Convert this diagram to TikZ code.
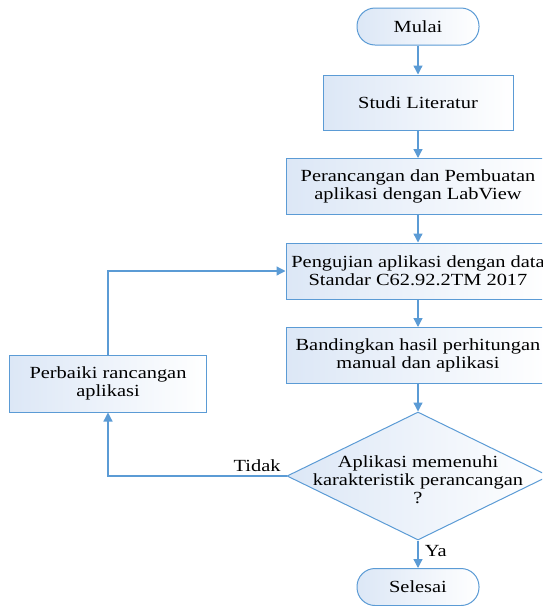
\documentclass[tikz,border=0pt]{standalone}
\usepackage{fontspec}
\setmainfont{Liberation Serif}[FakeStretch=1.2]
\usepackage{tikz}
\usetikzlibrary{positioning,shapes.geometric,arrows.meta}

\definecolor{flowblue}{HTML}{5B9BD5}
\definecolor{fillblue}{HTML}{DCE7F6}

\begin{document}
\begin{tikzpicture}[
        x=1pt, y=-1pt,
        node distance=27.5pt,
        font=\fontsize{17}{18}\selectfont,
        % every node/.style={draw},
        base/.style={draw=flowblue, line width=1pt, left color=fillblue, right color=white, align=center, inner sep=2pt},
        terminal/.style={base, rounded corners=18pt, minimum width=122pt, minimum height=37pt},
        process/.style={base, minimum width=264pt, minimum height=56pt},
        decision/.style={base, diamond, inner sep=0pt, minimum width=262pt, minimum height=128pt},
        % connectors
        line/.style={draw=flowblue, line width=1.3pt, -{Triangle[width=9pt,length=9pt]}},
    ]
    \useasboundingbox (0,0) rectangle (542,606);
    \clip (0,0) rectangle (542,606);

    \node [terminal] (mulai) at (418,26.5) {Mulai};
    \node [process, minimum width=190pt, minimum height=55pt, below=29pt of mulai] (studi) {Studi Literatur};
    \node [process, below=of studi] (perancangan) {Perancangan dan Pembuatan\\aplikasi dengan LabView};
    \node [process, below=of perancangan] (pengujian) {Pengujian aplikasi dengan data\\Standar C62.92.2TM 2017};
    \node [process, below=of pengujian] (bandingkan) {Bandingkan hasil perhitungan\\manual dan aplikasi};
    \node [decision, below=of bandingkan,
        label={[align=center, yshift=-4pt]center:Aplikasi memenuhi\\karakteristik perancangan\\?}] (cek) {};
    \node [terminal, below=of cek] (selesai) {Selesai};
    \node [process, minimum width=197pt, minimum height=57pt] (perbaiki) at (108,383.5) {Perbaiki rancangan\\aplikasi};

    % main flow
    \draw [line] (mulai) -- (studi);
    \draw [line] (studi) -- (perancangan);
    \draw [line] (perancangan) -- (pengujian);
    \draw [line] (pengujian) -- (bandingkan);
    \draw [line] (bandingkan) -- (cek);
    \draw [line] (cek) -- node [right, pos=0.4, xshift=3pt] {Ya} (selesai);

    % loop back
    \draw [line] (cek.west) node [above left, xshift=-2pt] {Tidak} -| (perbaiki.south);
    \draw [line] (perbaiki.north) |- (pengujian.west);
\end{tikzpicture}
\end{document}
